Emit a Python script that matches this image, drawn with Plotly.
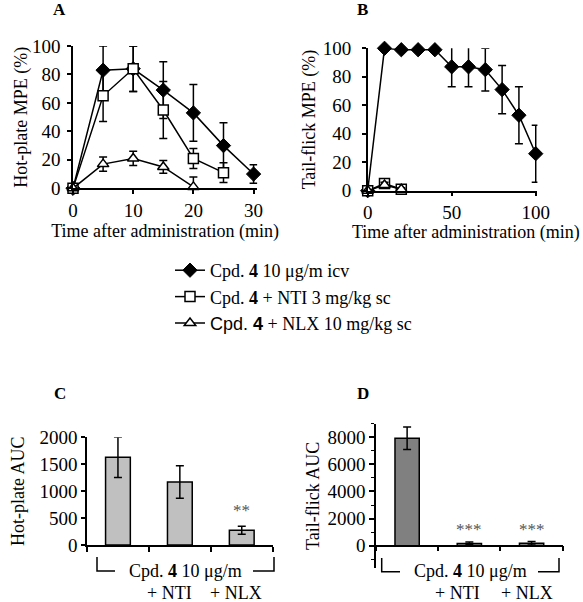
import plotly.graph_objects as go

# ---------------- data ----------------
a_time_cpd4 = [0, 5, 10, 15, 20, 25, 30]
a_cpd4 = [0, 83, 84, 69, 53, 30, 10]
a_cpd4_err = [0, 17, 16, 20, 20, 16, 6.5]

a_time_nti = [0, 5, 10, 15, 20, 25]
a_nti = [0, 65, 84, 55, 21, 11]
a_nti_err = [0, 18, 16, 20, 7, 7]

a_time_nlx = [0, 5, 10, 15, 20]
a_nlx = [0, 17, 21, 15, 1]
a_nlx_err = [0, 5, 5, 4.5, 7]

b_time_cpd4 = [0, 10, 20, 30, 40, 50, 60, 70, 80, 90, 100]
b_cpd4 = [0, 100, 99, 99, 99, 87, 87, 85, 71, 53, 26]
b_cpd4_err = [0, 0, 0, 0, 0, 14, 14, 15, 17, 20, 20]

b_time_small = [0, 10, 20]
b_nti = [0, 5, 1]
b_nti_err = [0, 2, 1]
b_nlx = [0, 4, 1]
b_nlx_err = [0, 2, 1]

bar_groups = ["Cpd. 4", "+ NTI", "+ NLX"]
c_auc = [1630, 1170, 275]
c_auc_err = [375, 300, 75]
d_auc = [7920, 170, 180]
d_auc_err = [830, 100, 130]

legend_names = [
    "Cpd. <b>4</b> 10 μg/m icv",
    "Cpd. <b>4</b> + NTI 3 mg/kg sc",
    '<span style="font-family:Liberation Sans">Cpd. <b>4</b></span> + NLX 10 mg/kg sc',
]

# ---------------- helpers ----------------
W, H = 583, 602
SERIF = "Liberation Serif"
FS = 18


def px(x):
    return x / W


def py(y):
    return 1 - y / H


fig = go.Figure()


def err(vals):
    return dict(type="data", array=vals, visible=True, color="black", thickness=1.5, width=4)


line_style = dict(color="black", width=1.5)

# Panel A
fig.add_trace(go.Scatter(x=a_time_cpd4, y=a_cpd4, error_y=err(a_cpd4_err), mode="lines+markers",
                         name=legend_names[0], line=line_style, cliponaxis=False,
                         marker=dict(symbol="diamond", size=11, color="black", line=dict(color="black", width=1)),
                         xaxis="x", yaxis="y", legendrank=1))
fig.add_trace(go.Scatter(x=a_time_nti, y=a_nti, error_y=err(a_nti_err), mode="lines+markers",
                         name=legend_names[1], line=line_style, cliponaxis=False,
                         marker=dict(symbol="square", size=10, color="white", line=dict(color="black", width=1.5)),
                         xaxis="x", yaxis="y", legendrank=2))
fig.add_trace(go.Scatter(x=a_time_nlx, y=a_nlx, error_y=err(a_nlx_err), mode="lines+markers",
                         name=legend_names[2], line=line_style, cliponaxis=False,
                         marker=dict(symbol="triangle-up", size=10, color="white", line=dict(color="black", width=1.5)),
                         xaxis="x", yaxis="y", legendrank=3))

# Panel B
fig.add_trace(go.Scatter(x=b_time_cpd4, y=b_cpd4, error_y=err(b_cpd4_err), mode="lines+markers",
                         showlegend=False, line=line_style, cliponaxis=False,
                         marker=dict(symbol="diamond", size=11, color="black", line=dict(color="black", width=1)),
                         xaxis="x2", yaxis="y2"))
fig.add_trace(go.Scatter(x=b_time_small, y=b_nti, error_y=err(b_nti_err), mode="lines+markers",
                         showlegend=False, line=line_style, cliponaxis=False,
                         marker=dict(symbol="square", size=10, color="white", line=dict(color="black", width=1.5)),
                         xaxis="x2", yaxis="y2"))
fig.add_trace(go.Scatter(x=b_time_small, y=b_nlx, error_y=err(b_nlx_err), mode="lines+markers",
                         showlegend=False, line=line_style, cliponaxis=False,
                         marker=dict(symbol="triangle-up", size=10, color="white", line=dict(color="black", width=1.5)),
                         xaxis="x2", yaxis="y2"))

# Panel C
fig.add_trace(go.Bar(x=bar_groups, y=c_auc, error_y=err(c_auc_err), width=0.4, showlegend=False,
                     marker=dict(color="#c0c0c0", line=dict(color="black", width=1.5)),
                     xaxis="x3", yaxis="y3"))
# Panel D
fig.add_trace(go.Bar(x=bar_groups, y=d_auc, error_y=err(d_auc_err), width=0.39, showlegend=False,
                     marker=dict(color="#808080", line=dict(color="black", width=1.5)),
                     xaxis="x4", yaxis="y4"))

tickfont = dict(family=SERIF, size=19, color="black")
titlefont = dict(family=SERIF, size=FS, color="black")
base_axis = dict(showgrid=False, zeroline=False, showline=True, linecolor="black", linewidth=1.5,
                 ticks="outside", tickcolor="black", tickwidth=1.5, ticklen=4, tickfont=tickfont,
                 automargin=False)

fig.update_layout(
    template="none",
    width=W, height=H, margin=dict(l=0, r=0, t=0, b=0, autoexpand=False),
    paper_bgcolor="white", plot_bgcolor="white",
    font=dict(family=SERIF, size=FS, color="black"),
    xaxis=dict(base_axis, domain=[px(73), px(257.2)], range=[0, 30.6], tickvals=[0, 10, 20, 30],
               anchor="y", title=dict(text="Time after administration (min)", font=titlefont, standoff=1)),
    yaxis=dict(base_axis, domain=[py(188.3), py(46)], range=[0, 100], dtick=20, ticklabelstandoff=3,
               anchor="x", title=dict(text="Hot-plate MPE (%)", font=titlefont, standoff=0)),
    xaxis2=dict(base_axis, domain=[px(367.7), px(537.4)], range=[0, 101], tickvals=[0, 50, 100],
                anchor="y2"),
    yaxis2=dict(base_axis, domain=[py(190.7), py(48.3)], range=[0, 100], dtick=20, ticklabelstandoff=7,
                anchor="x2", title=dict(text="Tail-flick MPE (%)", font=titlefont, standoff=2)),
    xaxis3=dict(base_axis, domain=[px(87), px(272.7)], range=[-0.5, 2.5], tickson="boundaries",
                showticklabels=False, anchor="y3", ticklen=5),
    yaxis3=dict(base_axis, domain=[py(545), py(437.3)], range=[0, 2000], dtick=500,
                anchor="x3", title=dict(text="Hot-plate AUC", font=titlefont, standoff=10)),
    xaxis4=dict(base_axis, domain=[px(376), px(562.7)], range=[-0.5, 2.5], tickson="boundaries",
                showticklabels=False, anchor="free", position=py(545.7), ticklen=5),
    yaxis4=dict(base_axis, domain=[py(568.1), py(423.7)], range=[-1650, 9000], dtick=2000, tick0=0,
                minor=dict(dtick=1000, tick0=0, ticks="outside", ticklen=3, tickcolor="black", tickwidth=1),
                anchor="x4", ticklen=5, title=dict(text="Tail-flick AUC", font=titlefont, standoff=3)),
    legend=dict(x=px(170), y=py(252), xanchor="left", yanchor="top", font=dict(family=SERIF, size=18),
                bgcolor="rgba(0,0,0,0)", borderwidth=0, tracegroupgap=0, itemwidth=30),
    showlegend=True,
)

annotations = []
# B x-axis title (shifted right as in the reference)
annotations.append(dict(text="Time after administration (min)", x=px(466), y=py(232), xref="paper", yref="paper",
                        showarrow=False, xanchor="center", yanchor="middle", font=titlefont))
# panel letters
for letter, x, y in [("A", 59.5, 10), ("B", 362, 10), ("C", 60, 393), ("D", 363, 393)]:
    annotations.append(dict(text=f"<b>{letter}</b>", x=px(x), y=py(y), xref="paper", yref="paper",
                            showarrow=False, xanchor="center", yanchor="middle",
                            font=dict(family=SERIF, size=17, color="black")))
# significance marks
sig_color = "#555555"
annotations.append(dict(text="**", x=2, y=c_auc[2] + c_auc_err[2], xref="x3", yref="y3", showarrow=False,
                        yanchor="bottom", yshift=4, font=dict(family=SERIF, size=17, color=sig_color)))
for i in (1, 2):
    annotations.append(dict(text="***", x=i, y=d_auc[i] + d_auc_err[i], xref="x4", yref="y4", showarrow=False,
                            yanchor="bottom", yshift=1, font=dict(family=SERIF, size=17, color=sig_color)))
# group labels under bars
for cx, nti_x, nlx_x in [(185.6, 169, 236), (470.8, 457, 527)]:
    annotations.append(dict(text="Cpd. <b>4</b> 10 μg/m", x=px(cx), y=py(571), xref="paper", yref="paper",
                            showarrow=False, xanchor="center", yanchor="middle", font=titlefont))
    annotations.append(dict(text="+ NTI", x=px(nti_x), y=py(593), xref="paper", yref="paper",
                            showarrow=False, xanchor="center", yanchor="middle", font=titlefont))
    annotations.append(dict(text="+ NLX", x=px(nlx_x), y=py(593), xref="paper", yref="paper",
                            showarrow=False, xanchor="center", yanchor="middle", font=titlefont))
fig.update_layout(annotations=annotations)

# brackets
shapes = []
for (lx, l2, r1, rx, ytop, ybot) in [(97, 115, 253, 274, 557, 571), (381.7, 400, 538, 559, 558, 571.7)]:
    path = (f"M {px(lx)},{py(ytop)} L {px(lx)},{py(ybot)} L {px(l2)},{py(ybot)} "
            f"M {px(r1)},{py(ybot)} L {px(rx)},{py(ybot)} L {px(rx)},{py(ytop)}")
    shapes.append(dict(type="path", path=path, xref="paper", yref="paper",
                       line=dict(color="black", width=1.5)))
fig.update_layout(shapes=shapes)

fig.write_html("out.html", config={"displayModeBar": False},
               post_script="document.body.style.margin='0';")
